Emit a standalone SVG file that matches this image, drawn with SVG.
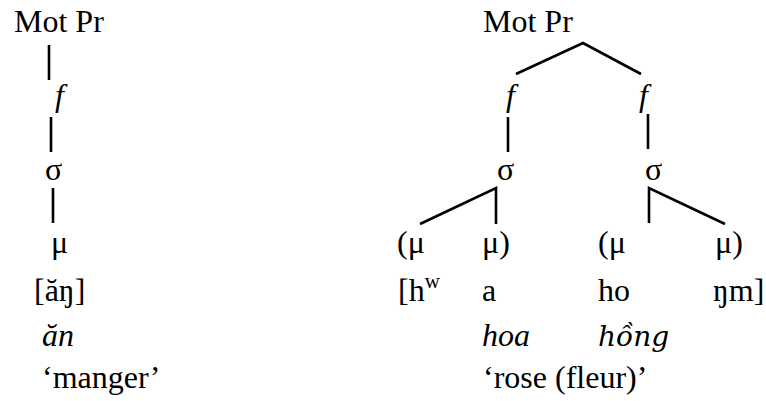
<svg xmlns="http://www.w3.org/2000/svg" width="766" height="401" viewBox="0 0 766 401">
<rect width="766" height="401" fill="#fff"/>
<g id="connectors" stroke="#000" stroke-width="2.6" fill="none">
<line x1="49" y1="45" x2="49" y2="80"/>
<line x1="51" y1="117" x2="51" y2="152"/>
<line x1="53" y1="188" x2="53" y2="223"/>
<polyline points="516,74 583,43 641,74"/>
<line x1="508" y1="117" x2="508" y2="152"/>
<line x1="648" y1="114" x2="648" y2="149"/>
<polyline points="420,224 496,188 496,224"/>
<polyline points="649,223 649,188 725,224"/>
</g>
<g id="left-tree" font-size="32">
<g id="l-motpr"><text font-family="'Liberation Serif'" x="14" y="32">Mot Pr</text></g>
<g id="l-f"><text font-family="'Liberation Serif'" font-style="italic" x="55" y="106">f</text></g>
<g id="l-sigma"><text font-family="'Liberation Serif'" x="45" y="180">σ</text></g>
<g id="l-mu"><text font-family="'Liberation Serif'" x="51" y="253">μ</text></g>
<g id="l-ipa"><text font-family="'Liberation Serif'" x="34" y="301">[ăŋ]</text></g>
<g id="l-word"><text font-family="'Liberation Serif'" font-style="italic" x="42" y="346">ăn</text></g>
<g id="l-gloss"><text font-family="'Liberation Serif'" x="42" y="388">‘manger’</text></g>
</g>
<g id="right-tree" font-size="32">
<g id="r-motpr"><text font-family="'Liberation Serif'" x="483" y="32">Mot Pr</text></g>
<g id="r-f1"><text font-family="'Liberation Serif'" font-style="italic" x="506" y="106">f</text></g>
<g id="r-f2"><text font-family="'Liberation Serif'" font-style="italic" x="639" y="106">f</text></g>
<g id="r-sigma1"><text font-family="'Liberation Serif'" x="497" y="180">σ</text></g>
<g id="r-sigma2"><text font-family="'Liberation Serif'" x="645" y="180">σ</text></g>
<g id="r-mu1"><text font-family="'Liberation Serif'" x="397" y="253">(μ</text></g>
<g id="r-mu2"><text font-family="'Liberation Serif'" x="482" y="253">μ)</text></g>
<g id="r-mu3"><text font-family="'Liberation Serif'" x="598" y="253">(μ</text></g>
<g id="r-mu4"><text font-family="'Liberation Serif'" x="715" y="253">μ)</text></g>
<g id="r-seg1"><text font-family="'Liberation Serif'" x="398" y="301">[h<tspan font-size="21" dy="-13">w</tspan></text></g>
<g id="r-seg2"><text font-family="'Liberation Serif'" x="482" y="301">a</text></g>
<g id="r-seg3"><text font-family="'Liberation Serif'" x="598" y="301">ho</text></g>
<g id="r-seg4"><text font-family="'Liberation Serif'" x="713" y="301">ŋm]</text></g>
<g id="r-word1"><text font-family="'Liberation Serif'" font-style="italic" x="482" y="346">hoa</text></g>
<g id="r-word2"><text font-family="'DejaVu Serif'" font-style="italic" font-size="28" x="598" y="346">hồng</text></g>
<g id="r-gloss"><text font-family="'Liberation Serif'" x="483" y="388">‘rose (fleur)’</text></g>
</g>
</svg>
